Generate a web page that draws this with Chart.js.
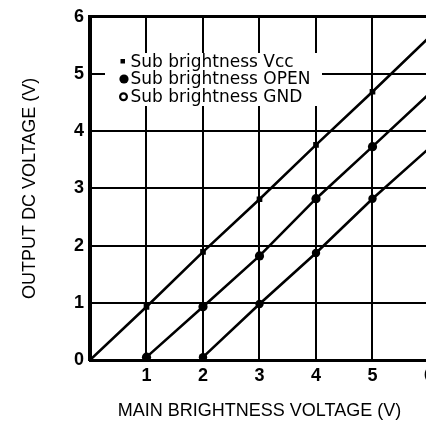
<!DOCTYPE html>
<html><head><meta charset="utf-8">
<script src="https://cdn.jsdelivr.net/npm/chart.js@4.4.1/dist/chart.umd.min.js"></script>
<style>html,body{margin:0;padding:0;background:#fff;overflow:hidden;width:426px;height:440px}canvas{display:block}</style>
</head><body><canvas id="c" width="439" height="440"></canvas>
<script>
const seriesLabels = ['Sub brightness Vcc', 'Sub brightness OPEN', 'Sub brightness GND'];
const vccX = [0, 1, 2, 3, 4, 5, 6];
const vccY = [0, 0.93, 1.89, 2.81, 3.76, 4.69, 5.64];
const openX = [1, 2, 3, 4, 5, 6];
const openY = [0.05, 0.93, 1.82, 2.82, 3.73, 4.65];
const gndX = [2, 3, 4, 5, 6];
const gndY = [0.05, 0.98, 1.87, 2.82, 3.70];
const xTickValues = [0, 1, 2, 3, 4, 5, 6];
const xTickLabels = ['', '1', '2', '3', '4', '5', '6'];
const yTickValues = [0, 1, 2, 3, 4, 5, 6];
const yTickLabels = ['0', '1', '2', '3', '4', '5', '6'];
const xTitle = 'MAIN BRIGHTNESS VOLTAGE (V)';
const yTitle = 'OUTPUT DC VOLTAGE (V)';

const toPts = (xs, ys) => xs.map((x, i) => ({x: x, y: ys[i]}));
const lastless = r => ctx => ctx.dataIndex === ctx.dataset.data.length - 1 ? 0 : r;

const tickFont = {family: '"Liberation Sans", Arial, sans-serif', size: 18, weight: 'bold'};
const titleFont = {family: '"Liberation Sans", Arial, sans-serif', size: 18};

const legendPlugin = {
  id: 'insideLegend',
  afterDraw(chart) {
    const ctx = chart.ctx;
    ctx.save();
    ctx.fillStyle = '#fff';
    ctx.fillRect(105, 53, 217, 53);
    ctx.fillStyle = '#000';
    ctx.font = '17px "DejaVu Sans"';
    ctx.textBaseline = 'alphabetic';
    ctx.textAlign = 'left';
    const base = [67, 84.3, 101.5];
    chart.data.datasets.forEach((ds, i) => {
      ctx.fillText(ds.label, 130.5, base[i]);
    });
    ctx.fillRect(120.5, 59, 4.5, 4.5);
    ctx.beginPath(); ctx.arc(124, 79, 4.6, 0, Math.PI * 2); ctx.fill();
    ctx.beginPath(); ctx.arc(123.5, 96.8, 3.4, 0, Math.PI * 2);
    ctx.lineWidth = 2.2; ctx.strokeStyle = '#000'; ctx.stroke();
    ctx.restore();
  }
};

new Chart(document.getElementById('c'), {
  type: 'line',
  data: {
    datasets: [
      {label: seriesLabels[0], data: toPts(vccX, vccY), borderColor: '#000', backgroundColor: '#000', borderWidth: 2.6, pointStyle: 'rect', pointRadius: lastless(4), pointBorderWidth: 0, tension: 0},
      {label: seriesLabels[1], data: toPts(openX, openY), borderColor: '#000', backgroundColor: '#000', borderWidth: 2.6, pointStyle: 'circle', pointRadius: lastless(4.6), pointBorderWidth: 0, tension: 0},
      {label: seriesLabels[2], data: toPts(gndX, gndY), borderColor: '#000', backgroundColor: '#000', borderWidth: 2.6, pointStyle: 'circle', pointRadius: lastless(4.2), pointBorderWidth: 0, tension: 0}
    ]
  },
  options: {
    responsive: false,
    animation: false,
    events: [],
    layout: {padding: {top: 16, right: 10, left: 0, bottom: 0}},
    plugins: {legend: {display: false}, tooltip: {enabled: false}},
    scales: {
      x: {
        type: 'linear', min: 0, max: 6,
        afterBuildTicks: s => { s.ticks = xTickValues.map(v => ({value: v})); },
        afterFit: s => { s.height = 80; },
        ticks: {padding: 5, color: '#000', font: tickFont, maxRotation: 0, autoSkip: false,
          callback: v => xTickLabels[xTickValues.indexOf(v)] ?? ''},
        grid: {color: '#000', lineWidth: 2, drawTicks: false},
        border: {color: '#000', width: 3},
        title: {display: true, text: xTitle, color: '#000', font: titleFont, padding: {top: 0, bottom: 18}}
      },
      y: {
        type: 'linear', min: 0, max: 6,
        afterBuildTicks: s => { s.ticks = yTickValues.map(v => ({value: v})); },
        afterFit: s => { s.width = 90; },
        ticks: {padding: 6, color: '#000', font: tickFont, autoSkip: false,
          callback: v => yTickLabels[yTickValues.indexOf(v)] ?? ''},
        grid: {color: '#000', lineWidth: c => (c.tick && c.tick.value === 6) ? 3 : 2, drawTicks: false},
        border: {color: '#000', width: 4},
        title: {display: true, text: yTitle, color: '#000', font: titleFont, padding: {top: 19, bottom: 0}}
      }
    }
  },
  plugins: [legendPlugin]
});
</script>
</body></html>
